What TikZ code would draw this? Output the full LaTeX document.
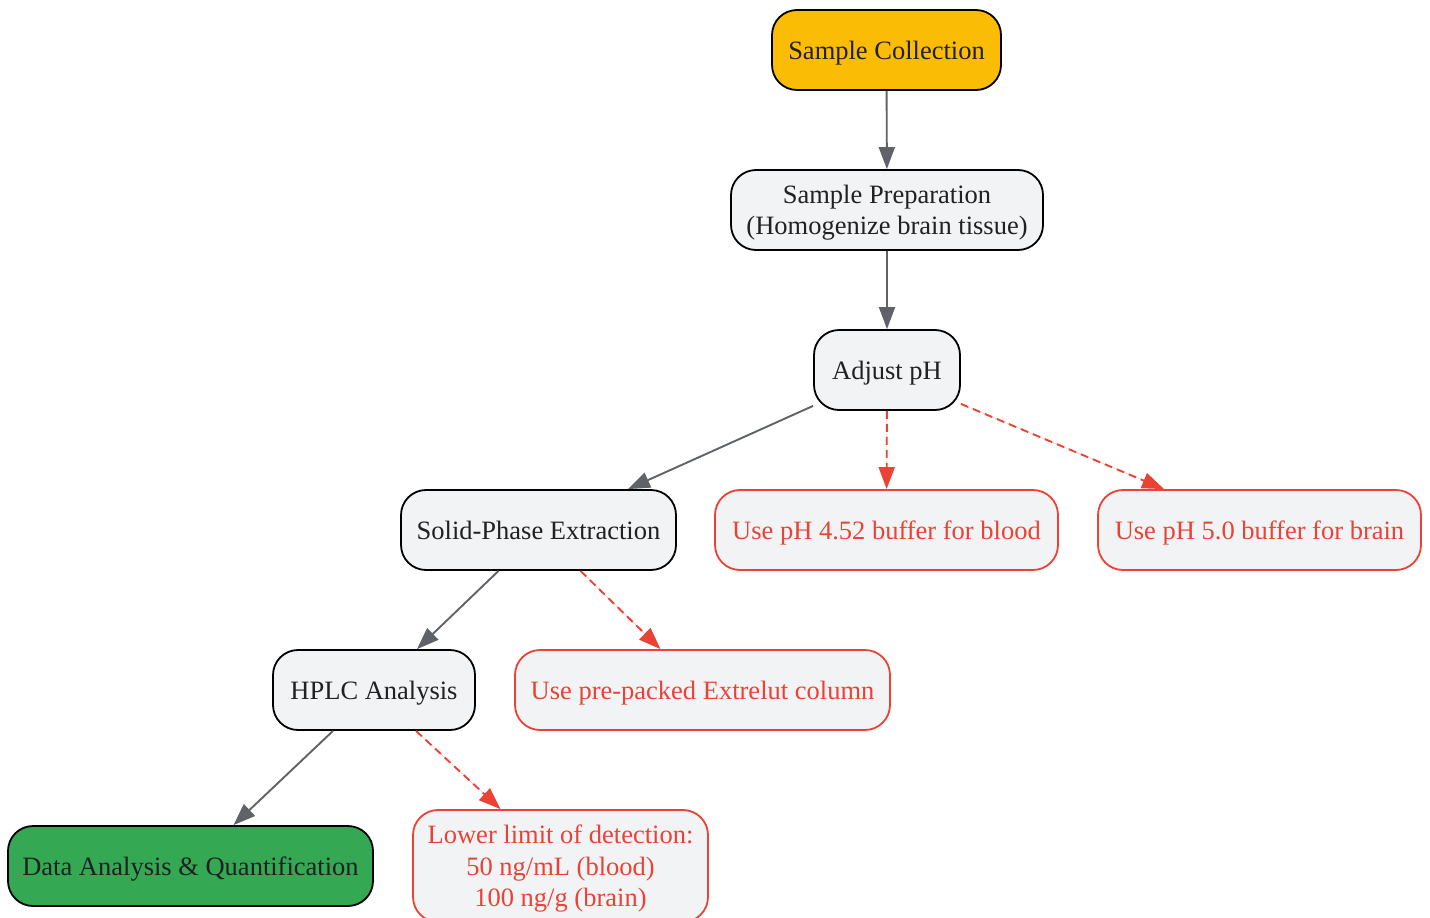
\documentclass[tikz,border=0pt]{standalone}
\usepackage{fontspec}
\setmainfont{Liberation Serif}
\usepackage{tikz}
\usetikzlibrary{
    arrows.meta,
    shapes,
    calc,
    positioning
}
\definecolor{inkgray}{HTML}{202124}
\definecolor{edgegray}{HTML}{5F6368}
\definecolor{warnred}{HTML}{EA4335}
\definecolor{boxfill}{HTML}{F1F3F4}
\definecolor{startyellow}{HTML}{FBBC05}
\definecolor{endgreen}{HTML}{34A853}
\tikzset{
    stagebox/.style={draw=black, line width=1.8pt, rounded corners=25pt, fill=boxfill,
        text=inkgray, align=center, minimum height=80pt, inner sep=0pt, text depth=-2pt,
        font=\fontsize{26.5}{31.5}\selectfont},
    notebox/.style={stagebox, draw=warnred, text=warnred},
    flow/.style={draw=edgegray, line width=1.9pt, -{Triangle[length=22pt, width=16pt]}},
    hint/.style={flow, draw=warnred, fill=warnred, dash pattern=on 8pt off 5pt}
}

\begin{document}
\begin{tikzpicture}[x=1pt, y=1pt]
                        \useasboundingbox (0, 0) rectangle (1430, -918);

                        \node[stagebox, fill=startyellow, minimum width=229pt] (sc) at (886.5, -50) {Sample Collection};
                        \node[stagebox, minimum width=312pt] (prep) at (887, -210) {Sample Preparation\\(Homogenize brain tissue)};
                        \node[stagebox, minimum width=146pt] (adj) at (887, -370) {Adjust pH};

                        \node[stagebox, minimum width=275pt] (spe) at (538.5, -530) {Solid-Phase Extraction};
                        \node[notebox, minimum width=343pt] (blood) at (886.5, -530) {Use pH 4.52 buffer for blood};
                        \node[notebox, minimum width=323pt] (brain) at (1259.5, -530) {Use pH 5.0 buffer for brain};

                        \node[stagebox, minimum width=202pt] (hplc) at (374, -690) {HPLC Analysis};
                        \node[notebox, minimum width=375pt] (extr) at (702.5, -690) {Use pre-packed Extrelut column};

                        \node[stagebox, fill=endgreen, minimum width=365pt] (data) at (190.5, -866) {Data Analysis \& Quantification};
                        \node[notebox, minimum width=295pt, minimum height=112pt] (lld) at (560.5, -866) {Lower limit of detection:\\50 ng/mL (blood)\\100 ng/g (brain)};

                        \draw[flow] (sc) -- (prep);
                        \draw[flow] (prep) -- (adj);
                        \draw[flow] ([yshift=5pt]adj.south west) -- ([xshift=-49pt]spe.north east);
                        \draw[hint] (adj) -- (blood);
                        \draw[hint] ([yshift=7pt]adj.south east) -- ([xshift=67pt]brain.north west);

                        \draw[flow] ([xshift=-40pt]spe.south) -- ([xshift=43pt]hplc.north);
                        \draw[hint] ([xshift=42pt]spe.south) -- ([xshift=-42pt]extr.north);

                        \draw[flow] ([xshift=-41pt]hplc.south) -- ([xshift=43pt]data.north);
                        \draw[hint] ([xshift=42pt]hplc.south) -- ([xshift=-60pt]lld.north);
                    \end{tikzpicture}
\end{document}
